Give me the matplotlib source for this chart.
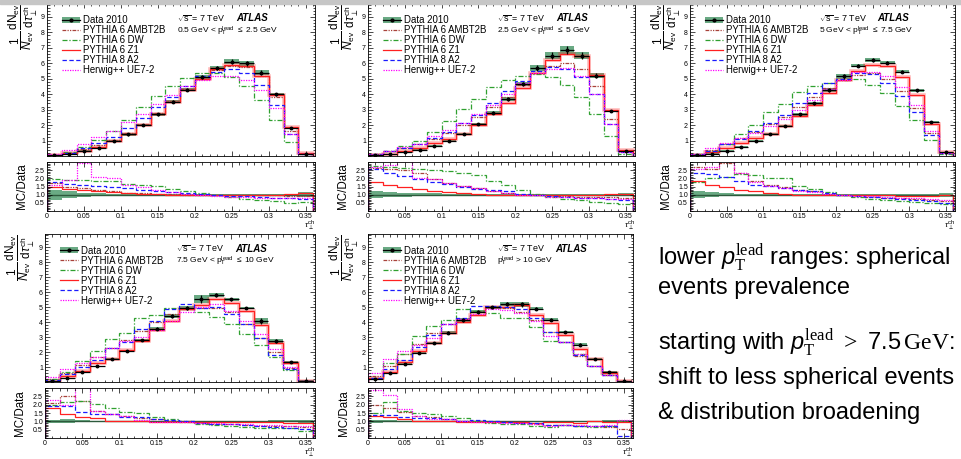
import numpy as np
import matplotlib
matplotlib.use("Agg")
import matplotlib.pyplot as plt
from matplotlib.lines import Line2D
from matplotlib.patches import Patch, Rectangle
from matplotlib.ticker import MultipleLocator, FixedLocator, FuncFormatter

plt.rcParams['font.family'] = ['Liberation Sans', 'DejaVu Sans']
plt.rcParams['mathtext.fontset'] = 'custom'
plt.rcParams['mathtext.rm'] = 'Liberation Sans'
plt.rcParams['mathtext.it'] = 'Liberation Sans:italic'
plt.rcParams['mathtext.bf'] = 'Liberation Sans:bold'
plt.rcParams['mathtext.sf'] = 'Liberation Sans'
plt.rcParams['mathtext.tt'] = 'Liberation Serif'   # serif bits of the slide text

# --- bins of tau_perp^ch
BIN_EDGES = [0.00, 0.02, 0.04, 0.06, 0.08, 0.10, 0.12, 0.14, 0.16, 0.18,
             0.20, 0.22, 0.24, 0.26, 0.28, 0.30, 0.32, 0.34, 0.36]

# ---------- panel 1: 0.5 < pT lead <= 2.5 GeV
p1_data   = [0.05, 0.15, 0.35, 0.55, 0.95, 1.4, 2.0, 2.7, 3.5, 4.3, 5.1, 5.7, 6.1, 6.0, 5.4, 4.0, 1.8, 0.15]
p1_err    = [0.015, 0.03, 0.04, 0.05, 0.06, 0.08, 0.09, 0.1, 0.1, 0.12, 0.14, 0.15, 0.15, 0.15, 0.14, 0.1, 0.06, 0.02]
p1_ambt2b = [0.05, 0.2, 0.45, 0.7, 1.05, 1.5, 2.1, 2.8, 3.55, 4.35, 5.0, 5.55, 5.8, 5.75, 5.2, 3.85, 1.65, 0.15]
p1_dw     = [0.05, 0.25, 0.6, 1.05, 1.65, 2.35, 3.15, 3.9, 4.55, 5.05, 5.35, 5.4, 5.1, 4.5, 3.65, 2.35, 0.9, 0.1]
p1_z1     = [0.05, 0.2, 0.35, 0.6, 1.0, 1.4, 2.0, 2.7, 3.5, 4.3, 5.0, 5.6, 5.9, 5.85, 5.2, 3.95, 1.85, 0.2]
p1_a2     = [0.05, 0.2, 0.5, 0.85, 1.25, 1.8, 2.45, 3.15, 3.85, 4.5, 5.15, 5.45, 5.6, 5.35, 4.6, 3.3, 1.4, 0.12]
p1_herwig = [0.1, 0.4, 0.75, 1.2, 1.65, 2.2, 2.75, 3.35, 3.95, 4.5, 4.9, 5.2, 5.2, 4.9, 4.25, 3.1, 1.4, 0.15]
p1_r_ambt2b = [1.7, 1.5, 1.4, 1.3, 1.2, 1.12, 1.08, 1.05, 1.02, 1.0, 0.98, 0.97, 0.96, 0.95, 0.95, 0.95, 0.92, 0.9]
p1_r_dw     = [1.95, 1.92, 1.88, 1.85, 1.82, 1.68, 1.6, 1.55, 1.35, 1.22, 1.08, 0.98, 0.85, 0.76, 0.68, 0.6, 0.5, 0.55]
p1_r_z1     = [1.45, 1.35, 1.28, 1.2, 1.15, 1.1, 1.06, 1.03, 1.01, 1.0, 0.99, 0.98, 0.97, 0.98, 0.98, 1.0, 1.02, 1.1]
p1_r_a2     = [1.75, 1.65, 1.6, 1.55, 1.5, 1.4, 1.3, 1.25, 1.15, 1.1, 1.02, 0.98, 0.93, 0.9, 0.86, 0.82, 0.78, 0.75]
p1_r_herwig = [1.6, 1.9, 2.95, 2.1, 2.0, 1.6, 1.45, 1.3, 1.15, 1.05, 0.97, 0.92, 0.88, 0.83, 0.8, 0.78, 0.78, 0.8]

# ---------- panel 2: 2.5 < pT lead <= 5 GeV
p2_data   = [0.05, 0.12, 0.25, 0.4, 0.65, 1.0, 1.45, 2.05, 2.8, 3.7, 4.65, 5.7, 6.5, 6.85, 6.5, 5.2, 2.9, 0.35]
p2_err    = [0.01, 0.02, 0.03, 0.04, 0.05, 0.05, 0.06, 0.07, 0.1, 0.12, 0.15, 0.2, 0.25, 0.25, 0.22, 0.15, 0.08, 0.03]
p2_ambt2b = [0.1, 0.3, 0.55, 0.75, 1.1, 1.5, 2.0, 2.55, 3.15, 3.85, 4.6, 5.35, 5.85, 6.0, 5.6, 4.5, 2.4, 0.3]
p2_dw     = [0.1, 0.35, 0.65, 0.95, 1.55, 2.25, 3.05, 3.7, 4.45, 4.9, 5.15, 5.3, 5.1, 4.6, 3.85, 2.75, 1.3, 0.15]
p2_z1     = [0.05, 0.15, 0.35, 0.55, 0.85, 1.1, 1.4, 2.0, 2.75, 3.45, 4.4, 5.35, 6.2, 6.6, 6.5, 5.25, 2.95, 0.4]
p2_a2     = [0.1, 0.3, 0.55, 0.8, 1.15, 1.55, 2.15, 2.65, 3.4, 4.2, 4.85, 5.5, 5.75, 5.6, 5.1, 4.0, 2.05, 0.25]
p2_herwig = [0.1, 0.35, 0.6, 0.8, 1.3, 1.7, 2.15, 2.7, 3.3, 4.0, 4.7, 5.4, 5.65, 5.7, 5.15, 4.0, 2.1, 0.25]
p2_r_ambt2b = [2.65, 2.6, 2.5, 2.3, 1.95, 1.7, 1.55, 1.4, 1.25, 1.1, 1.0, 0.95, 0.92, 0.9, 0.88, 0.87, 0.85, 0.8]
p2_r_dw     = [2.75, 2.7, 2.65, 2.6, 2.5, 2.45, 2.3, 2.2, 1.85, 1.6, 1.3, 1.05, 0.85, 0.72, 0.65, 0.58, 0.5, 0.45]
p2_r_z1     = [1.75, 1.6, 1.45, 1.35, 1.25, 1.15, 1.08, 1.03, 0.98, 0.95, 0.95, 0.95, 0.95, 0.96, 0.99, 1.0, 1.02, 1.05]
p2_r_a2     = [2.6, 2.35, 2.15, 1.95, 1.75, 1.65, 1.5, 1.35, 1.3, 1.2, 1.05, 0.98, 0.9, 0.85, 0.82, 0.78, 0.72, 0.7]
p2_r_herwig = [2.7, 2.8, 3.05, 2.0, 1.95, 1.7, 1.55, 1.4, 1.2, 1.1, 1.0, 0.95, 0.88, 0.85, 0.8, 0.78, 0.72, 0.72]

# ---------- panel 3: 5 < pT lead <= 7.5 GeV
p3_data   = [0.05, 0.15, 0.35, 0.6, 1.0, 1.4, 1.95, 2.7, 3.4, 4.25, 5.15, 5.85, 6.2, 6.05, 5.45, 4.25, 2.2, 0.25]
p3_err    = [0.01, 0.02, 0.03, 0.04, 0.05, 0.06, 0.08, 0.09, 0.1, 0.12, 0.15, 0.1, 0.12, 0.1, 0.1, 0.08, 0.08, 0.03]
p3_ambt2b = [0.1, 0.4, 0.8, 1.15, 1.55, 2.05, 2.55, 3.2, 3.8, 4.4, 4.9, 5.25, 5.35, 5.0, 4.2, 3.1, 1.5, 0.2]
p3_dw     = [0.15, 0.35, 0.8, 1.4, 2.0, 2.85, 3.35, 4.15, 4.5, 4.75, 4.9, 5.0, 4.6, 4.05, 3.25, 2.3, 1.05, 0.15]
p3_z1     = [0.05, 0.25, 0.5, 0.85, 1.15, 1.45, 1.95, 2.6, 3.3, 4.05, 4.9, 5.5, 5.9, 5.8, 5.1, 3.95, 2.05, 0.25]
p3_a2     = [0.1, 0.35, 0.75, 1.1, 1.6, 2.15, 2.65, 3.45, 4.1, 4.75, 5.0, 5.35, 5.3, 4.7, 3.9, 2.85, 1.35, 0.2]
p3_herwig = [0.15, 0.55, 0.85, 1.15, 1.5, 1.95, 2.4, 3.0, 3.65, 4.35, 4.95, 5.45, 5.45, 5.15, 4.45, 3.3, 1.65, 0.2]
p3_r_ambt2b = [2.7, 2.6, 2.95, 2.3, 1.85, 1.6, 1.45, 1.3, 1.2, 1.05, 0.98, 0.92, 0.88, 0.82, 0.77, 0.73, 0.68, 0.6]
p3_r_dw     = [1.75, 2.05, 2.1, 2.25, 2.2, 2.05, 2.05, 1.55, 1.35, 1.15, 0.98, 0.88, 0.75, 0.68, 0.6, 0.55, 0.5, 0.45]
p3_r_z1     = [1.85, 1.6, 1.5, 1.3, 1.2, 1.1, 1.05, 1.0, 0.98, 0.97, 0.95, 0.95, 0.95, 0.95, 0.93, 0.93, 0.93, 0.95]
p3_r_a2     = [2.35, 2.25, 2.1, 1.85, 1.6, 1.55, 1.38, 1.3, 1.2, 1.1, 0.98, 0.92, 0.87, 0.78, 0.72, 0.68, 0.62, 0.5]
p3_r_herwig = [2.6, 2.7, 3.05, 2.3, 1.8, 1.55, 1.4, 1.25, 1.15, 1.05, 0.98, 0.93, 0.9, 0.85, 0.82, 0.8, 0.75, 0.7]

# ---------- panel 4: 7.5 < pT lead <= 10 GeV
p4_data   = [0.05, 0.25, 0.65, 1.05, 1.55, 2.1, 2.8, 3.55, 4.4, 4.95, 5.55, 5.8, 5.55, 4.95, 4.05, 2.75, 1.35, 0.1]
p4_err    = [0.005, 0.03, 0.04, 0.05, 0.06, 0.07, 0.09, 0.1, 0.12, 0.12, 0.25, 0.12, 0.1, 0.1, 0.2, 0.15, 0.08, 0.01]
p4_ambt2b = [0.2, 0.6, 1.15, 1.7, 2.25, 2.8, 3.4, 4.0, 4.55, 4.9, 4.95, 4.95, 4.65, 3.9, 2.95, 2.0, 0.95, 0.1]
p4_dw     = [0.2, 0.65, 1.4, 2.1, 2.85, 3.25, 4.3, 4.45, 4.95, 4.85, 4.65, 4.35, 3.9, 3.2, 2.45, 1.7, 0.8, 0.1]
p4_z1     = [0.1, 0.4, 0.75, 1.3, 1.55, 2.15, 2.75, 3.5, 4.1, 4.85, 5.15, 5.55, 5.3, 4.75, 3.8, 2.6, 1.25, 0.1]
p4_a2     = [0.15, 0.55, 1.0, 1.5, 2.3, 2.7, 3.55, 4.05, 4.9, 5.2, 4.95, 5.0, 4.55, 3.85, 2.95, 1.8, 0.85, 0.08]
p4_herwig = [0.35, 0.85, 1.3, 1.7, 2.25, 2.75, 3.0, 3.45, 4.1, 4.7, 5.0, 5.2, 4.75, 4.05, 3.2, 2.2, 1.0, 0.1]
p4_r_ambt2b = [2.1, 2.5, 2.2, 1.65, 1.45, 1.3, 1.2, 1.12, 1.05, 1.0, 0.9, 0.87, 0.83, 0.8, 0.75, 0.72, 0.7, 0.65]
p4_r_dw     = [2.0, 2.15, 2.2, 2.05, 1.8, 1.55, 1.5, 1.25, 1.12, 0.98, 0.84, 0.76, 0.7, 0.65, 0.6, 0.6, 0.6, 0.45]
p4_r_z1     = [1.8, 1.45, 1.25, 1.2, 1.05, 1.02, 1.0, 0.98, 0.95, 0.97, 0.95, 0.95, 0.95, 0.95, 0.95, 0.95, 0.92, 0.9]
p4_r_a2     = [1.95, 1.9, 1.55, 1.45, 1.45, 1.28, 1.25, 1.15, 1.1, 1.05, 0.9, 0.86, 0.82, 0.78, 0.73, 0.68, 0.62, 0.55]
p4_r_herwig = [2.3, 2.0, 3.05, 1.65, 1.45, 1.3, 1.08, 0.98, 0.95, 0.97, 0.92, 0.9, 0.86, 0.82, 0.79, 0.76, 0.72, 0.7]

# ---------- panel 5: pT lead > 10 GeV
p5_data   = [0.2, 0.6, 1.2, 1.95, 2.6, 3.3, 4.15, 4.7, 5.0, 5.2, 5.2, 4.9, 4.15, 3.35, 2.5, 1.55, 0.65, 0.05]
p5_err    = [0.02, 0.04, 0.06, 0.07, 0.08, 0.1, 0.12, 0.1, 0.1, 0.12, 0.15, 0.1, 0.1, 0.08, 0.12, 0.06, 0.06, 0.005]
p5_ambt2b = [0.4, 1.05, 1.85, 2.55, 3.25, 3.85, 4.2, 4.75, 5.0, 4.95, 4.65, 4.15, 3.35, 2.65, 1.75, 1.1, 0.5, 0.05]
p5_dw     = [0.3, 1.3, 1.9, 3.05, 3.75, 4.15, 4.85, 4.75, 4.6, 4.3, 4.25, 3.65, 2.75, 2.7, 1.85, 1.05, 0.45, 0.05]
p5_z1     = [0.25, 0.7, 1.35, 2.05, 2.6, 3.25, 4.0, 4.5, 5.0, 5.05, 5.15, 4.5, 3.95, 3.15, 2.2, 1.55, 0.6, 0.05]
p5_a2     = [0.25, 0.9, 1.5, 2.35, 3.15, 3.85, 4.25, 5.1, 5.1, 5.0, 4.85, 4.3, 3.35, 2.7, 1.8, 1.1, 0.5, 0.02]
p5_herwig = [0.6, 1.55, 2.1, 2.5, 2.95, 3.85, 4.2, 4.55, 4.9, 4.8, 4.6, 4.05, 3.1, 2.7, 1.9, 1.1, 0.5, 0.05]
p5_r_ambt2b = [2.0, 1.8, 1.55, 1.3, 1.25, 1.15, 1.05, 1.0, 0.98, 0.95, 0.9, 0.85, 0.8, 0.78, 0.72, 0.7, 0.68, 0.55]
p5_r_dw     = [1.5, 2.15, 1.6, 1.5, 1.45, 1.35, 1.2, 1.0, 0.92, 0.83, 0.82, 0.75, 0.68, 0.8, 0.75, 0.68, 0.7, 1.0]
p5_r_z1     = [1.3, 1.25, 1.15, 1.05, 1.0, 1.0, 0.97, 0.95, 0.98, 0.97, 0.98, 0.92, 0.95, 0.95, 0.9, 1.0, 0.95, 0.95]
p5_r_a2     = [1.4, 1.4, 1.25, 1.2, 1.2, 1.15, 1.05, 1.08, 1.02, 0.97, 0.93, 0.88, 0.8, 0.8, 0.72, 0.7, 0.75, 0.15]
p5_r_herwig = [2.9, 2.6, 1.75, 1.3, 1.15, 1.15, 1.0, 0.97, 0.98, 0.92, 0.88, 0.82, 0.75, 0.8, 0.76, 0.7, 0.77, 1.1]

RANGE_LABELS = [
    r'0.5 GeV < $\mathrm{p}_{\mathrm{T}}^{\mathrm{lead}}$ $\leq$ 2.5 GeV',
    r'2.5 GeV < $\mathrm{p}_{\mathrm{T}}^{\mathrm{lead}}$ $\leq$ 5 GeV',
    r'5 GeV < $\mathrm{p}_{\mathrm{T}}^{\mathrm{lead}}$ $\leq$ 7.5 GeV',
    r'7.5 GeV < $\mathrm{p}_{\mathrm{T}}^{\mathrm{lead}}$ $\leq$ 10 GeV',
    r'$\mathrm{p}_{\mathrm{T}}^{\mathrm{lead}}$ > 10 GeV',
]

# ---------- styles
BAND = '#6aaa84'
MC_STYLE = {
    'PYTHIA 6 AMBT2B': dict(color='#a8423a', ls=(0, (3, 1, 1, 1, 1, 1))),
    'PYTHIA 6 DW':     dict(color='#2fa02f', ls=(0, (4, 1.5, 1, 1.5))),
    'PYTHIA 6 Z1':     dict(color='#ff2020', ls='-'),
    'PYTHIA 8 A2':     dict(color='#1a1aff', ls=(0, (3.5, 2))),
    'Herwig++ UE7-2':  dict(color='#ff00ff', ls=(0, (1, 1))),
}

PANELS = [
    (p1_data, p1_err, [p1_ambt2b, p1_dw, p1_z1, p1_a2, p1_herwig],
     [p1_r_ambt2b, p1_r_dw, p1_r_z1, p1_r_a2, p1_r_herwig]),
    (p2_data, p2_err, [p2_ambt2b, p2_dw, p2_z1, p2_a2, p2_herwig],
     [p2_r_ambt2b, p2_r_dw, p2_r_z1, p2_r_a2, p2_r_herwig]),
    (p3_data, p3_err, [p3_ambt2b, p3_dw, p3_z1, p3_a2, p3_herwig],
     [p3_r_ambt2b, p3_r_dw, p3_r_z1, p3_r_a2, p3_r_herwig]),
    (p4_data, p4_err, [p4_ambt2b, p4_dw, p4_z1, p4_a2, p4_herwig],
     [p4_r_ambt2b, p4_r_dw, p4_r_z1, p4_r_a2, p4_r_herwig]),
    (p5_data, p5_err, [p5_ambt2b, p5_dw, p5_z1, p5_a2, p5_herwig],
     [p5_r_ambt2b, p5_r_dw, p5_r_z1, p5_r_a2, p5_r_herwig]),
]

# pixel boxes (left, right, top, bottom) of main / ratio pads
PADS = [
    ((47, 315, 3, 156), (47, 315, 162, 211)),
    ((368, 635, 3, 156), (368, 635, 162, 211)),
    ((690, 955, 3, 156), (690, 955, 162, 211)),
    ((45, 315, 234, 382), (45, 315, 388, 438)),
    ((368, 633, 234, 382), (368, 633, 388, 438)),
]

W, H = 961, 459


def box(l, r, t, b):
    return [l / W, 1 - b / H, (r - l) / W, (b - t) / H]


def style_ticks(ax):
    ax.tick_params(which='both', direction='in', top=True, right=True,
                   width=0.5, labelsize=5, pad=1.5)
    ax.tick_params(which='major', length=3.5)
    ax.tick_params(which='minor', length=1.8)
    for s in ax.spines.values():
        s.set_linewidth(0.6)


def draw_panel(ax, axr, data, err, mcs, ratios, label):
    edges = np.array(BIN_EDGES)
    centers = 0.5 * (edges[1:] + edges[:-1])
    d = np.array(data)
    e = np.array(err)

    # main pad
    ax.stairs(d + e, edges, baseline=d - e, fill=True, color=BAND, lw=0)
    ax.stairs(mcs[2], edges, color='#ff2020', lw=2.6, alpha=0.3)
    for (name, st), vals in zip(MC_STYLE.items(), mcs):
        ax.stairs(vals, edges, color=st['color'], linestyle=st['ls'], lw=0.9)
    ax.errorbar(centers, d, xerr=0.01, yerr=e, fmt='o', ms=1.8,
                color='k', elinewidth=0.9, capsize=0)

    ax.set_xlim(0, 0.3625)
    ax.set_ylim(0, 9.9)
    ax.xaxis.set_major_locator(MultipleLocator(0.05))
    ax.xaxis.set_minor_locator(MultipleLocator(0.01))
    ax.yaxis.set_major_locator(FixedLocator([1, 2, 3, 4, 5, 6, 7, 8, 9]))
    ax.yaxis.set_minor_locator(MultipleLocator(0.2))
    style_ticks(ax)
    ax.tick_params(labelbottom=False)

    handles = [(Patch(facecolor=BAND, edgecolor='none'),
                Line2D([], [], color='k', marker='o', ms=2, lw=0.9))]
    for name, st in MC_STYLE.items():
        handles.append(Line2D([], [], color=st['color'], ls=st['ls'], lw=0.9))
    ax.legend(handles, ['Data 2010'] + list(MC_STYLE.keys()),
              loc='upper left', bbox_to_anchor=(0.055, 0.922), frameon=False,
              fontsize=6.9, handlelength=1.9, handleheight=0.6,
              handletextpad=0.35, labelspacing=0.0, borderpad=0,
              borderaxespad=0)

    ax.text(0.485, 0.9, r'$\sqrt{\mathrm{s}}$ = 7 TeV', transform=ax.transAxes,
            fontsize=6.4, va='center')
    ax.text(0.705, 0.9, 'ATLAS', transform=ax.transAxes, fontsize=7.0,
            fontweight='bold', fontstyle='italic', va='center')
    ax.text(0.485, 0.815, label, transform=ax.transAxes, fontsize=6.0,
            va='center')
    ax.text(-0.09, 1.0,
            r'$\dfrac{1}{N_{\mathrm{ev}}}\,\dfrac{\mathrm{dN_{ev}}}{\mathrm{d}\tau_{\perp}^{\mathrm{ch}}}$',
            transform=ax.transAxes, rotation=90, ha='center', va='top',
            fontsize=8.5)

    # ratio pad
    rel = e / d
    axr.stairs(1 + rel, edges, baseline=1 - rel, fill=True, color=BAND, lw=0)
    axr.stairs(np.ones_like(d), edges, color='#2d5a3c', lw=1.0)
    for (name, st), vals in zip(MC_STYLE.items(), ratios):
        axr.stairs(vals, edges, color=st['color'], linestyle=st['ls'], lw=0.9)

    axr.set_xlim(0, 0.3625)
    axr.set_ylim(0, 3)
    axr.xaxis.set_major_locator(MultipleLocator(0.05))
    axr.xaxis.set_minor_locator(MultipleLocator(0.01))
    axr.xaxis.set_major_formatter(FuncFormatter(lambda v, p: '%g' % round(v, 3)))
    axr.yaxis.set_major_locator(FixedLocator([0.5, 1, 1.5, 2, 2.5]))
    axr.yaxis.set_minor_locator(MultipleLocator(0.1))
    style_ticks(axr)
    axr.text(-0.092, 0.5, 'MC/Data', transform=axr.transAxes, rotation=90,
             ha='center', va='center', fontsize=8.3)
    # x title sits under the last tick label, as in ROOT
    axr.text(1.0, -0.15, r'$\tau_{\perp}^{\mathrm{ch}}$', transform=axr.transAxes,
             ha='right', va='top', fontsize=6.0)


fig = plt.figure(figsize=(W / 100, H / 100), dpi=100)
fig.patches.append(Rectangle((0, 1 - 4 / H), 1, 4 / H, transform=fig.transFigure,
                             color='#c6c6c6', zorder=0))

for (data, err, mcs, ratios), (mbox, rbox), label in zip(PANELS, PADS, RANGE_LABELS):
    ax = fig.add_axes(box(*mbox))
    axr = fig.add_axes(box(*rbox))
    draw_panel(ax, axr, data, err, mcs, ratios, label)

# slide text on the right
SLIDE_LINES = [
    (265, r'lower $p_{\mathtt{T}}^{\mathtt{lead}}$ ranges: spherical'),
    (294, 'events prevalence'),
    (350, r'starting with $p_{\mathtt{T}}^{\mathtt{lead}}$ $\mathtt{>}$ 7.5$\,\mathtt{GeV}$:'),
    (384, 'shift to less spherical events'),
    (419, '& distribution broadening'),
]
for y, txt in SLIDE_LINES:
    fig.text(658 / W, 1 - y / H, txt, fontsize=17.0, va='baseline', ha='left')

fig.savefig('out.png', dpi=100)
